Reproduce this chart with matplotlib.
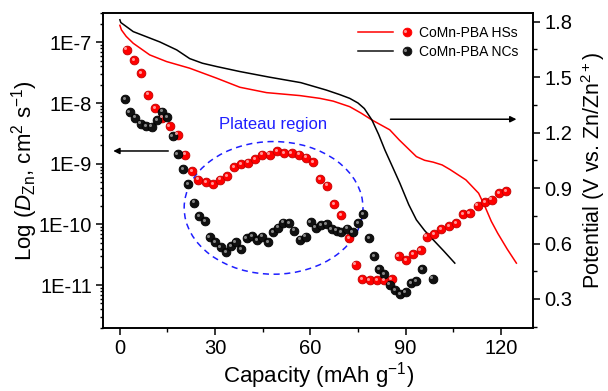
import numpy as np
import matplotlib
matplotlib.use("Agg")
import matplotlib.pyplot as plt
from matplotlib.lines import Line2D
from matplotlib.legend_handler import HandlerBase
from matplotlib.patches import Ellipse
from matplotlib import transforms
from matplotlib.ticker import FixedLocator, FuncFormatter, MultipleLocator

plt.rcParams['font.family'] = ['Liberation Sans', 'DejaVu Sans']
plt.rcParams['mathtext.fontset'] = 'custom'
plt.rcParams['mathtext.rm'] = 'Liberation Sans'
plt.rcParams['mathtext.it'] = 'Liberation Sans:italic'

# ---------------- data ----------------
# Diffusion coefficient (log10 of D), HSs (red)
hs_cap = [2.1, 4.4, 6.7, 9.0, 11.2, 13.4, 15.7, 18.2, 20.5, 22.7, 24.7, 27.1, 29.4,
          31.5, 33.8, 36.1, 38.3, 40.5, 42.7, 44.9, 47.2, 49.5, 51.7, 54.1, 56.4,
          58.6, 60.9, 63.0, 65.4, 67.5, 69.8, 72.1, 74.3, 76.4, 78.7, 81.0, 83.3,
          85.6, 87.8, 90.1, 92.4, 94.7, 96.6, 99.0, 101.3, 103.6, 105.8, 108.1,
          110.2, 112.7, 115.0, 117.1, 119.4, 121.6]
hs_logd = [-7.12, -7.30, -7.51, -7.86, -8.08, -8.24, -8.38, -8.52, -8.85, -9.12, -9.26,
           -9.30, -9.34, -9.26, -9.20, -9.06, -9.01, -8.98, -8.92, -8.85, -8.85, -8.79,
           -8.82, -8.83, -8.85, -8.90, -8.97, -9.25, -9.36, -9.67, -9.85, -10.23,
           -10.66, -10.90, -10.92, -10.92, -10.92, -10.90, -10.52, -10.59, -10.49,
           -10.42, -10.20, -10.16, -10.08, -10.03, -9.98, -9.83, -9.81, -9.69, -9.63,
           -9.59, -9.49, -9.45]

# Diffusion coefficient (log10 of D), NCs (black)
nc_cap = [1.6, 3.1, 4.7, 6.5, 8.2, 10.0, 11.8, 13.2, 15.0, 16.6, 18.2, 19.9, 21.5,
          23.4, 24.9, 26.8, 28.3, 29.9, 31.7, 33.4, 35.0, 36.5, 38.3, 39.9, 41.7,
          43.2, 44.9, 46.7, 48.3, 49.9, 51.4, 53.3, 55.0, 56.7, 58.5, 60.1, 61.7,
          63.3, 65.1, 66.7, 68.3, 69.8, 71.5, 73.3, 75.1, 76.6, 78.4, 80.0, 81.7,
          83.2, 85.0, 86.6, 88.2, 90.0, 91.7, 93.4, 95.2, 98.5]
nc_logd = [-7.93, -8.15, -8.24, -8.34, -8.38, -8.39, -8.28, -8.14, -8.23, -8.55, -8.84,
           -9.09, -9.34, -9.64, -9.86, -9.94, -10.21, -10.29, -10.37, -10.46, -10.36,
           -10.29, -10.40, -10.23, -10.19, -10.26, -10.20, -10.29, -10.13, -10.05,
           -9.97, -9.98, -10.10, -10.25, -10.20, -9.96, -10.05, -10.01, -10.00,
           -10.08, -10.10, -10.13, -10.07, -10.13, -9.98, -9.83, -10.23, -10.52,
           -10.73, -10.82, -10.99, -11.08, -11.15, -11.11, -10.96, -10.93, -10.74,
           -10.89]

# Discharge potential curves
hs_vcap = [0, 0.5, 2, 4.2, 9.4, 14.7, 22, 30.5, 37.8, 46.2, 56.7, 63, 67.2, 72.4, 76,
           79.4, 85, 88, 93.4, 96, 98.7, 101.5, 104, 109, 113, 115, 117, 119, 122, 124.9]
hs_volt = [1.78, 1.755, 1.72, 1.683, 1.62, 1.584, 1.548, 1.494, 1.445, 1.416, 1.40,
           1.385, 1.37, 1.34, 1.305, 1.268, 1.215, 1.16, 1.07, 1.05, 1.04, 1.025, 1.0,
           0.944, 0.872, 0.80, 0.72, 0.656, 0.57, 0.494]

nc_vcap = [0, 0.3, 4.2, 12.6, 17.9, 22, 26, 30.5, 37.8, 47, 57, 65, 69.3, 72.4, 75,
           77, 79.4, 81.5, 83.5, 86, 88.2, 91, 93.4, 96, 98.7, 102, 105.5]
nc_volt = [1.81, 1.795, 1.746, 1.69, 1.647, 1.60, 1.575, 1.557, 1.53, 1.50, 1.47,
           1.43, 1.405, 1.385, 1.36, 1.33, 1.268, 1.19, 1.105, 1.01, 0.926, 0.81,
           0.728, 0.67, 0.62, 0.56, 0.494]

labels = ['CoMn-PBA HSs', 'CoMn-PBA NCs']
x_ticks = [0, 30, 60, 90, 120]
logd_ticks = [-11, -10, -9, -8, -7]
v_ticks = [0.3, 0.6, 0.9, 1.2, 1.5, 1.8]

# ---------------- figure ----------------
fig = plt.figure(figsize=(6.08, 3.91), dpi=100)
ax = fig.add_axes([0.170, 0.162, 0.707, 0.804])
ax2 = ax.twinx()
ax.set_zorder(ax2.get_zorder() + 1)
ax.patch.set_visible(False)

RED = '#ff0000'
BLACK = '#000000'

# potential lines
ax2.plot(hs_vcap, hs_volt, color=RED, lw=1.1)
ax2.plot(nc_vcap, nc_volt, color=BLACK, lw=1.1)

# spheres
def spheres(axis, x, y, face, edge, hl):
    axis.plot(x, y, ls='none', marker='o', ms=6.3, mfc=face, mec=edge, mew=0.6, zorder=3)
    off = transforms.offset_copy(axis.transData, fig=fig, x=-0.9, y=0.9, units='points')
    axis.plot(x, y, ls='none', marker='o', ms=2.2, mfc=hl, mec='none', alpha=0.85,
              transform=off, zorder=4)

hs_d = 10.0 ** np.array(hs_logd)
nc_d = 10.0 ** np.array(nc_logd)
spheres(ax, hs_cap, hs_d, RED, '#c00000', '#ffb0b0')
spheres(ax, nc_cap, nc_d, '#111111', '#000000', '#9a9a9a')

ax.set_yscale('log')
ax.set_ylim(2e-12, 3e-7)
ax.set_xlim(-5.2, 130.2)
ax2.set_ylim(0.145, 1.845)

ax.yaxis.set_major_locator(FixedLocator([10.0 ** k for k in logd_ticks]))
ax.yaxis.set_major_formatter(FuncFormatter(lambda v, p: '1E%d' % int(round(np.log10(v)))))
ax.set_xticks(x_ticks)
ax.xaxis.set_minor_locator(MultipleLocator(15))
ax2.set_yticks(v_ticks)
ax2.yaxis.set_minor_locator(MultipleLocator(0.15))
ax2.set_yticklabels(['%.1f' % v for v in v_ticks])

for a in (ax, ax2):
    for s in a.spines.values():
        s.set_linewidth(1.2)
ax.tick_params(axis='both', which='major', direction='out', length=5, width=1.1,
               labelsize=14.5, pad=3)
ax.tick_params(axis='both', which='minor', direction='out', length=2.8, width=1.0)
ax.tick_params(axis='y', which='minor', length=2.5)
ax2.tick_params(axis='y', which='major', direction='out', length=5, width=1.1,
                labelsize=14.5, pad=3)
ax2.tick_params(axis='y', which='minor', direction='out', length=2.8, width=1.0)

ax.set_xlabel('Capacity (mAh g$^{-1}$)', fontsize=16, labelpad=2)
ax.set_ylabel(r'Log ($\mathit{D}_{\mathrm{Zn}}$, cm$^{2}$ s$^{-1}$)', fontsize=16, labelpad=-1)
ax2.set_ylabel(r'Potential (V vs. Zn/Zn$^{2+}$)', fontsize=15.5, labelpad=5)

# plateau annotation
ell = Ellipse((0.396, 0.381), 0.416, 0.422, transform=ax.transAxes, fill=False,
              edgecolor='#1f1fff', lw=1.1, ls=(0, (4, 3)), zorder=2)
ax.add_patch(ell)
ax.text(0.395, 0.645, 'Plateau region', transform=ax.transAxes, color='#1f1fff',
        fontsize=12, ha='center', va='center')

# arrows
ax.annotate('', xy=(0.023, 0.562), xytext=(0.151, 0.562), xycoords='axes fraction',
            arrowprops=dict(arrowstyle='-|>', color='black', lw=1.1, mutation_scale=9,
                            shrinkA=0, shrinkB=0))
ax.annotate('', xy=(0.961, 0.663), xytext=(0.668, 0.663), xycoords='axes fraction',
            arrowprops=dict(arrowstyle='-|>', color='black', lw=1.1, mutation_scale=9,
                            shrinkA=0, shrinkB=0))

# legend: line then sphere
class LineDot(HandlerBase):
    def __init__(self, color, hl):
        super().__init__()
        self.color = color
        self.hl = hl

    def create_artists(self, legend, orig_handle, xdescent, ydescent, width, height,
                       fontsize, trans):
        y = height / 2 - ydescent
        ln = Line2D([-xdescent, -xdescent + 0.66 * width], [y, y], color=self.color, lw=1.1)
        mk = Line2D([-xdescent + 0.92 * width], [y], ls='none', marker='o', ms=6.3,
                    mfc=self.color, mec=self.color, mew=0.6)
        hl = Line2D([-xdescent + 0.92 * width - 0.9], [y + 0.9], ls='none', marker='o',
                    ms=2.2, mfc=self.hl, mec='none', alpha=0.85)
        for a in (ln, mk, hl):
            a.set_transform(trans)
        return [ln, mk, hl]

h1 = Line2D([], [], color=RED)
h2 = Line2D([], [], color=BLACK)
ax.legend([h1, h2], labels, loc='upper right', bbox_to_anchor=(0.985, 0.985),
          frameon=False, fontsize=10, handlelength=3.8, handletextpad=0.6,
          labelspacing=0.35, borderaxespad=0.2,
          handler_map={h1: LineDot(RED, '#ffb0b0'), h2: LineDot('#111111', '#9a9a9a')})

fig.savefig('out.png', dpi=100)
